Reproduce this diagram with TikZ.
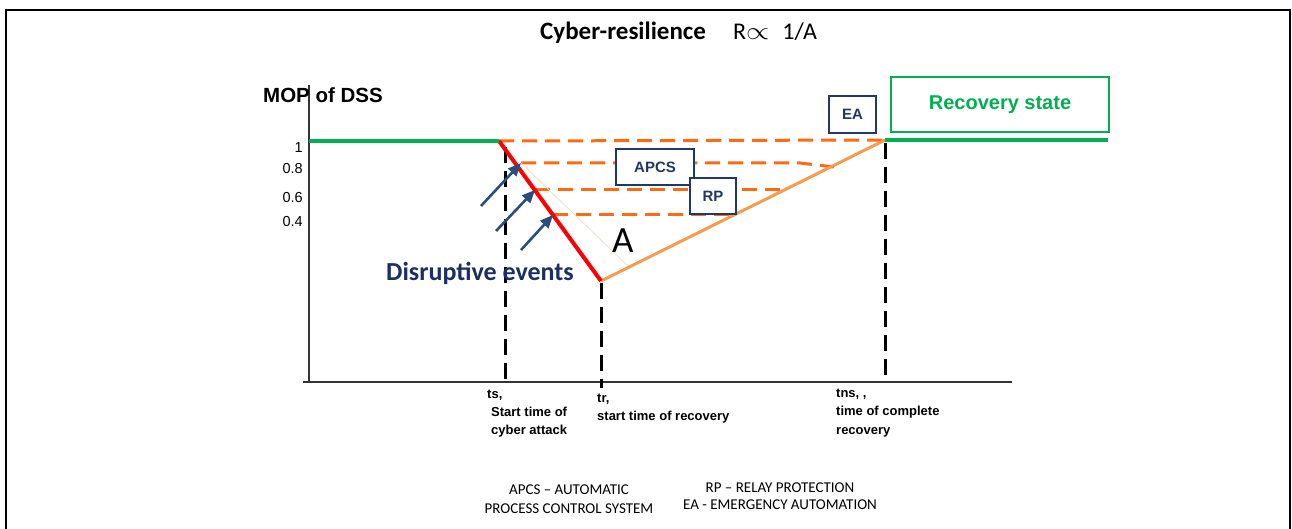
\documentclass[tikz,border=0pt]{standalone}
\usepackage{fontspec}
\setmainfont{Liberation Sans}
\newfontfamily\calfont{Carlito}
\usetikzlibrary{arrows.meta}
\definecolor{kgreen}{HTML}{00B050}
\definecolor{kred}{HTML}{FF0000}
\definecolor{kdash}{HTML}{FF6A13}
\definecolor{klight}{HTML}{F79B4F}
\definecolor{knavy}{HTML}{1F3864}
\definecolor{ktext}{HTML}{1A2F66}
\definecolor{karrow}{HTML}{2A4D80}
\definecolor{kfaint}{HTML}{F2DCC8}
\tikzset{
  axisline/.style={line width=1.4pt, draw=black!80},
  timeline/.style={line width=3pt, black, dash pattern=on 16pt off 8pt},
  leveldash/.style={line width=3pt, kdash, dash pattern=on 15pt off 8pt},
  greenline/.style={line width=4pt, kgreen},
  hitarrow/.style={line width=2.6pt, karrow, -{Triangle[length=13pt,width=11pt]}},
  navybox/.style={draw=knavy, line width=1.8pt, fill=white, inner sep=0pt,
    font=\fontsize{15}{17}\bfseries\selectfont, text=knavy},
  ticklabel/.style={anchor=base east, inner sep=0pt, font=\fontsize{14.5}{16}\selectfont},
  timelabel/.style={anchor=base west, inner sep=0pt, font=\fontsize{13}{15}\bfseries\selectfont},
  legend/.style={anchor=base, inner sep=0pt, font=\calfont\fontsize{15}{17}\selectfont},
}
\begin{document}
\begin{tikzpicture}[x=1pt,y=-1pt]
\useasboundingbox (0,0) rectangle (1292,529);
% outer frame, open at the bottom
\draw[line width=2.5pt] (6,529) -- (6,10) -- (1290,10) -- (1290,529);

% title
\node[anchor=base west, inner sep=0pt, font=\calfont\fontsize{25}{28}\bfseries\selectfont] (title) at (540,40) {Cyber-resilience};
\node[anchor=base west, inner sep=0pt, font=\calfont\fontsize{24}{27}\selectfont] (ratio) at (733,40)
  {R\scalebox{1.2}[1]{$\propto$}\hspace{13pt}1/A};

% axes
\coordinate (O) at (309,382);
\coordinate (ytop) at (309,85);
\coordinate (xl) at (303,382);
\coordinate (xr) at (1012,382);
\draw[axisline] (O) -- (ytop);
\draw[axisline] (xl) -- (xr);
\node[anchor=base west, inner sep=0pt, font=\fontsize{20.5}{23}\bfseries\selectfont] (ylabel) at (263,103) {MOP of DSS};

\node[ticklabel] (t1) at (303,153) {1};
\node[ticklabel] (t08) at (303,174) {0.8};
\node[ticklabel] (t06) at (303,203) {0.6};
\node[ticklabel] (t04) at (303,227) {0.4};

% key points of the performance curve
\coordinate (p0) at (309,141);
\coordinate (ts) at (499,141);
\coordinate (tr) at (601,281);
\coordinate (tn) at (885,140);
\coordinate (gend) at (1108,140);
\coordinate (a1) at (521,163);
\coordinate (a2) at (535,190);
\coordinate (a3) at (553,215);

% time markers
\coordinate (tsA) at (505,147);
\coordinate (tsB) at (505,382);
\coordinate (trA) at (601,283);
\coordinate (trB) at (601,388);
\coordinate (tnA) at (885,143);
\coordinate (tnB) at (885,382);
\draw[timeline] (tsA) -- (tsB);
\draw[timeline] (trA) -- (trB);
\draw[timeline] (tnA) -- (tnB);

% protection levels
\coordinate (b1) at (800,163);
\coordinate (b1e) at (834,167);
\coordinate (b2) at (785,190);
\coordinate (b3) at (733,215);
\coordinate (fa) at (628,266);
\draw[leveldash] (ts) -- (tn);
\draw[leveldash] (a1) -- (b1) -- (b1e);
\draw[leveldash] (a2) -- (b2);
\draw[leveldash] (a3) -- (b3);
\draw[kfaint, line width=0.8pt] (a1) -- (fa);

% performance curve
\draw[line width=3pt, klight] (tr) -- (tn);
\draw[line width=4pt, kred] (ts) -- (tr);
\draw[greenline] (p0) -- (ts);
\draw[greenline] (tn) -- (gend);

% disruptive events
\coordinate (e1) at (481,206);
\coordinate (e2) at (496,231);
\coordinate (e3) at (521,250);
\draw[hitarrow] (e1) -- (a1);
\draw[hitarrow] (e2) -- (a2);
\draw[hitarrow] (e3) -- (a3);
\node[anchor=base west, inner sep=0pt, text=ktext, font=\calfont\fontsize{26}{30}\bfseries\selectfont] (dis) at (386,280) {Disruptive events};
\node[anchor=base west, inner sep=0pt, font=\calfont\fontsize{37}{40}\selectfont] (area) at (612,252) {A};

% system boxes
\node[navybox, minimum width=78pt, minimum height=36pt] (apcs) at (655,167) {APCS};
\node[navybox, minimum width=46pt, minimum height=36pt] (rp) at (713,196) {RP};
\node[navybox, minimum width=47pt, minimum height=37pt] (ea) at (852.5,114.5) {EA};
\node[draw=kgreen, line width=1.8pt, fill=white, minimum width=218pt, minimum height=55pt, inner sep=0pt,
  text=kgreen, font=\fontsize{20}{23}\bfseries\selectfont] (rec) at (1000,104.5) {Recovery state};

% time labels
\node[timelabel] (lts) at (487,398) {ts,};
\node[timelabel] (lts2) at (491,416) {Start time of};
\node[timelabel] (lts3) at (491,434) {cyber attack};
\node[timelabel] (ltr) at (597,402) {tr,};
\node[timelabel] (ltr2) at (597,420) {start time of recovery};
\node[timelabel] (ltn) at (836,397) {tns, ,};
\node[timelabel] (ltn2) at (836,415) {time of complete};
\node[timelabel] (ltn3) at (836,434) {recovery};

% legend
\node[legend] (lg1) at (569,494) {APCS – AUTOMATIC};
\node[legend] (lg2) at (569,513) {PROCESS CONTROL SYSTEM};
\node[legend] (lg3) at (780,492) {RP – RELAY PROTECTION};
\node[legend] (lg4) at (780,509) {EA - EMERGENCY AUTOMATION};
\end{tikzpicture}
\end{document}
